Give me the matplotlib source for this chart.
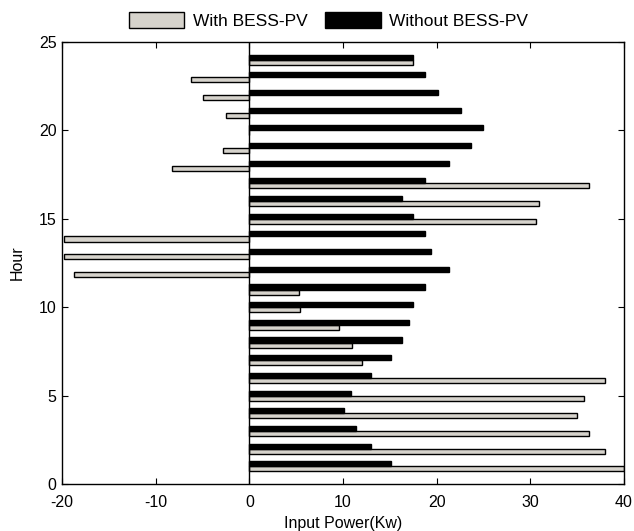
import numpy as np
import matplotlib.pyplot as plt

plt.rcParams['font.family'] = ['Liberation Sans', 'DejaVu Sans']
plt.rcParams['axes.unicode_minus'] = False

# hours 1..24
hours = np.arange(1, 25)
with_bess = [40.0, 38.0, 36.3, 35.0, 35.7, 38.0, 12.0, 11.0, 9.6, 5.4, 5.3, -18.7,
             -19.8, -19.8, 30.6, 30.9, 36.3, -8.3, -2.8, 0.0, -2.5, -5.0, -6.2, 17.5]
without_bess = [15.1, 13.0, 11.4, 10.1, 10.9, 13.0, 15.1, 16.3, 17.0, 17.5, 18.8, 21.3,
                19.4, 18.8, 17.5, 16.3, 18.8, 21.3, 23.7, 25.0, 22.6, 20.1, 18.8, 17.5]

fig = plt.figure(figsize=(6.34, 5.31), dpi=100)
ax = fig.add_axes([0.098, 0.0885, 0.886, 0.8325])

h = 0.286
ax.barh(hours - h / 2, with_bess, height=h, color='#d6d3cc', edgecolor='black',
        linewidth=1.0, label='With BESS-PV')
ax.barh(hours + h / 2, without_bess, height=h, color='black', edgecolor='black',
        linewidth=1.0, label='Without BESS-PV')
ax.axvline(0, color='black', linewidth=1.0)

ax.set_xlim(-20, 40)
ax.set_ylim(0, 25)
ax.set_xticks([-20, -10, 0, 10, 20, 30, 40])
ax.set_yticks([0, 5, 10, 15, 20, 25])
ax.tick_params(direction='in', top=True, right=True, length=4, labelsize=11.5)
ax.tick_params(axis='x', pad=8)
ax.tick_params(axis='y', pad=4)
for s in ax.spines.values():
    s.set_linewidth(1.0)

ax.set_xlabel('Input Power(Kw)', fontsize=11.5, labelpad=4)
ax.set_ylabel('Hour', fontsize=11.5, labelpad=10)

ax.legend(loc='lower center', bbox_to_anchor=(0.474, 1.01), ncol=2, frameon=False,
          fontsize=12.5, handlelength=3.2, handleheight=1.1, columnspacing=1.0,
          handletextpad=0.5, borderaxespad=0.1)

fig.savefig('out.png', dpi=100)
